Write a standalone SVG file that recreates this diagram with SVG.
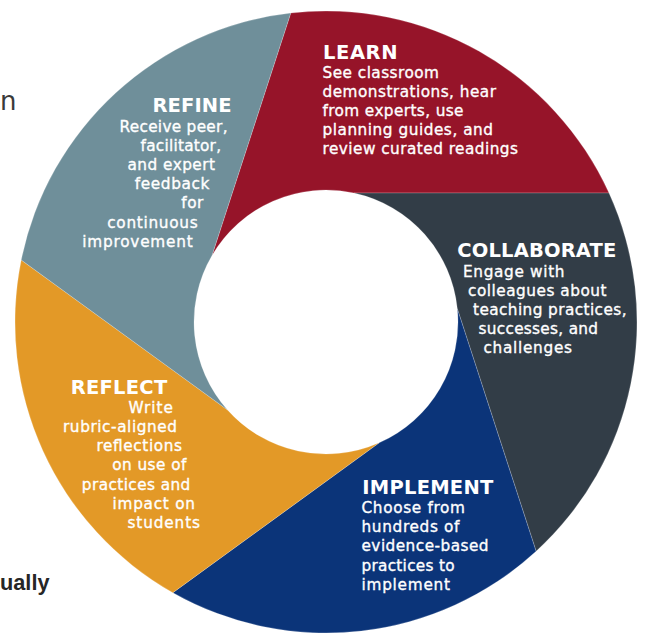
<svg xmlns="http://www.w3.org/2000/svg" width="646" height="633" viewBox="0 0 646 633">
<style>
.seg{stroke:#ffffff;stroke-width:0.4;stroke-opacity:0.5}
.t{font-family:"DejaVu Sans","Liberation Sans",sans-serif;fill:#ffffff}
.h{font-size:19.5px;font-weight:bold}
.b{font-size:15.3px;font-weight:normal;stroke:#ffffff;stroke-width:0.35}
.bg{font-family:"DejaVu Sans","Liberation Sans",sans-serif}
</style>
<rect x="0" y="0" width="646" height="633" fill="#ffffff"/>
<g id="background-text">
<text class="bg" x="0" y="110" font-size="26" fill="#3a3a3a">n</text>
<text x="0" y="590" font-family="'Liberation Sans',Arial,sans-serif" font-size="22.5" font-weight="bold" fill="#262626" textLength="49.5" lengthAdjust="spacingAndGlyphs">ually</text>
</g>
<g id="learn">
<path class="seg" fill="#961429" d="M290.79 13.0 A311 311 0 0 1 609.0 193.03 L354.0 193.0 A132 132 0 0 0 211.97 255.5 Z"/>
<text class="t h" x="323" y="59" textLength="74.5">LEARN</text>
<text class="t b" x="322.5" y="77.5" textLength="116.5">See classroom</text>
<text class="t b" x="322.5" y="96.7" textLength="173.5">demonstrations, hear</text>
<text class="t b" x="322.5" y="116" textLength="141">from experts, use</text>
<text class="t b" x="322.5" y="135" textLength="170.5">planning guides, and</text>
<text class="t b" x="322.5" y="154.3" textLength="195.5">review curated readings</text>
</g>
<g id="collaborate">
<path class="seg" fill="#323D47" d="M609.0 193.03 A311 311 0 0 1 536.11 551.29 L457.34 308.78 A132 132 0 0 0 354.0 193.0 Z"/>
<text class="t h" x="457.3" y="257.3" textLength="159">COLLABORATE</text>
<text class="t b" x="463" y="276.7" textLength="101.5">Engage with</text>
<text class="t b" x="468" y="296" textLength="138.5">colleagues about</text>
<text class="t b" x="473" y="315.3" textLength="153.5">teaching practices,</text>
<text class="t b" x="478.5" y="334" textLength="119.5">successes, and</text>
<text class="t b" x="483.5" y="353" textLength="88.5">challenges</text>
</g>
<g id="implement">
<path class="seg" fill="#0B3479" d="M536.11 551.29 A311 311 0 0 1 172.86 592.68 L379.16 442.82 A132 132 0 0 0 457.34 308.78 Z"/>
<text class="t h" x="362.3" y="494" textLength="131">IMPLEMENT</text>
<text class="t b" x="361.5" y="513" textLength="103.5">Choose from</text>
<text class="t b" x="361.5" y="532.3" textLength="98">hundreds of</text>
<text class="t b" x="361.5" y="551.3" textLength="127">evidence-based</text>
<text class="t b" x="361.5" y="570.7" textLength="93">practices to</text>
<text class="t b" x="361.5" y="589.7" textLength="88.5">implement</text>
</g>
<g id="reflect">
<path class="seg" fill="#E39927" d="M172.86 592.68 A311 311 0 0 1 21.24 260.0 L227.52 409.9 A132 132 0 0 0 379.16 442.82 Z"/>
<text class="t h" x="70.7" y="393.7" textLength="96.5">REFLECT</text>
<text class="t b" x="173" y="413" text-anchor="end" textLength="44.5">Write</text>
<text class="t b" x="177" y="432.3" text-anchor="end" textLength="114">rubric-aligned</text>
<text class="t b" x="182" y="451.3" text-anchor="end" textLength="85.5">reflections</text>
<text class="t b" x="186.3" y="470.3" text-anchor="end" textLength="74">on use of</text>
<text class="t b" x="190.3" y="489.7" text-anchor="end" textLength="108.5">practices and</text>
<text class="t b" x="195" y="508.7" text-anchor="end" textLength="82.5">impact on</text>
<text class="t b" x="200" y="528" text-anchor="end" textLength="72.5">students</text>
</g>
<g id="refine">
<path class="seg" fill="#6F8F9A" d="M21.24 260.0 A311 311 0 0 1 290.79 13.0 L211.97 255.5 A132 132 0 0 0 227.52 409.9 Z"/>
<text class="t h" x="231.5" y="112.3" text-anchor="end" textLength="79">REFINE</text>
<text class="t b" x="227.5" y="131.7" text-anchor="end" textLength="108">Receive peer,</text>
<text class="t b" x="221" y="150.7" text-anchor="end" textLength="80.5">facilitator,</text>
<text class="t b" x="215" y="170" text-anchor="end" textLength="87.5">and expert</text>
<text class="t b" x="209.3" y="189" text-anchor="end" textLength="74.5">feedback</text>
<text class="t b" x="203.3" y="208.3" text-anchor="end" textLength="22">for</text>
<text class="t b" x="197.7" y="227.7" text-anchor="end" textLength="90.5">continuous</text>
<text class="t b" x="192.7" y="246.7" text-anchor="end" textLength="110.5">improvement</text>
</g>
<g id="connectors"></g>
</svg>
